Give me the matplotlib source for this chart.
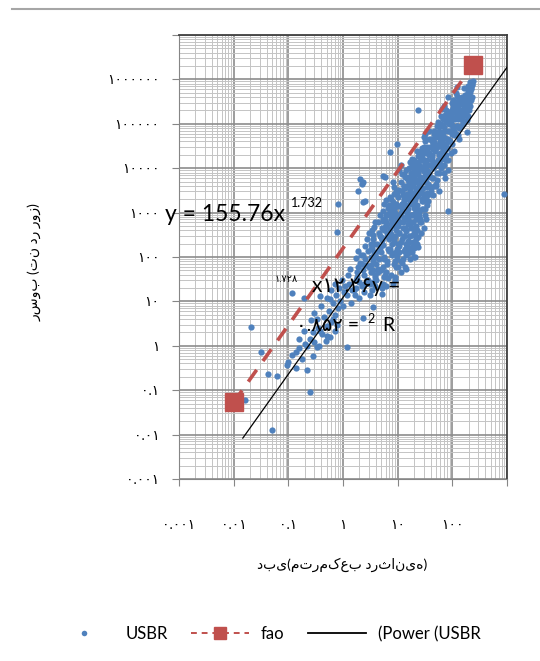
import matplotlib
matplotlib.use('Agg')
import matplotlib.pyplot as plt
from matplotlib.lines import Line2D
from matplotlib.ticker import LogLocator, FixedLocator, FixedFormatter, NullFormatter

plt.rcParams['font.family'] = ['Lato', 'DejaVu Sans']

# USBR measurements: discharge (m3/s) and sediment load (ton/day)
q_usbr = [
    # sparse low-flow tail and outliers
    0.016, 0.021, 0.031, 0.042, 0.051, 0.061, 0.093, 0.10, 0.117, 0.117,
    0.14, 0.14, 0.16, 0.16, 0.18, 0.19, 0.19, 0.20, 0.22, 0.22,
    0.245, 0.25, 0.26, 0.28, 0.28, 0.30, 0.30, 0.33, 0.34, 0.35,
    0.36, 0.38, 0.38, 0.40, 0.42, 0.45, 0.48, 0.50, 0.50, 0.50,
    0.55, 0.57, 0.58, 0.60, 0.60, 0.65, 0.65, 0.70, 0.70, 0.70,
    0.75, 0.78, 0.78, 0.80, 0.80, 0.85, 0.90, 0.95, 1.0, 1.05,
    1.1, 1.17, 2.3, 3.5, 2.05, 2.2, 1.9, 2.5, 5.4, 7.2,
    9.7, 23.6, 25.5, 83, 120, 210, 185, 83, 900, 2.3,
    2.3, 5.9, 5.9,
    # main cloud
    1.2, 1.3, 1.4, 1.25, 1.45, 1.35,
    1.7, 1.8, 1.9, 1.75, 2.0, 1.85, 1.65, 2.05,
    2.2, 2.4, 2.6, 2.3, 2.5, 2.7, 2.8, 2.35, 2.55, 2.9, 2.45,
    3.1, 3.3, 3.5, 3.2, 3.6, 3.4, 3.8, 3.0, 3.7, 3.9, 3.3, 3.55, 3.45, 3.75,
    4.1, 4.3, 4.5, 4.7, 4.9, 5.1, 5.3, 5.5, 5.7, 4.2,
    4.6, 5.0, 5.4, 4.4, 4.8, 5.2, 5.6, 5.8, 4.0, 5.5,
    6.0, 6.3, 6.6, 6.9, 7.2, 7.5, 7.8, 8.1, 8.4, 8.7, 6.2, 6.5,
    6.8, 7.1, 7.4, 7.7, 8.0, 8.3, 8.6, 8.9, 7.0, 7.6, 6.4, 8.2,
    9.2, 9.6, 10, 10.5, 11, 11.5, 12, 12.5, 13, 13.5, 9.4, 9.8, 10.3, 10.8,
    11.3, 11.8, 12.3, 12.8, 13.2, 13.4, 9.0, 10.1, 11.1, 12.1, 13.0, 10.6, 11.7,
    14, 14.5, 15, 15.5, 16, 16.5, 17, 17.5, 18, 18.5, 14.2, 14.8, 15.3, 15.8, 16.3,
    16.8, 17.3, 17.8, 18.3, 18.8, 19.3, 19.8, 20.3, 20, 15.6, 16.6, 17.6, 18.6, 19.5, 20.2,
    21, 22, 23, 24, 25, 26, 27, 28, 29, 30, 21.5, 22.5, 23.5, 24.5, 25.5,
    26.5, 27.5, 28.5, 29.5, 30.5, 22, 24, 26, 28, 23, 25, 27, 29, 31, 21,
    32, 34, 36, 38, 40, 42, 44, 46, 48, 33, 35, 37,
    39, 41, 43, 45, 47, 33, 36, 39, 42, 44, 37,
    50, 53, 56, 59, 62, 65, 68, 71, 52, 55, 58, 61, 64, 67, 70, 72, 57, 63,
    75, 80, 85, 90, 95, 100, 105, 78, 88, 98, 108, 82, 93, 103,
    112, 120, 128, 136, 145, 118, 132, 150, 160, 140, 125,
    170, 185, 200, 215, 230, 190, 210, 240, 225,
    # dense core
    5.0, 5.2, 5.4, 5.6, 5.8, 6.0, 6.2, 6.4, 6.6, 6.8, 5.1, 5.3, 5.7, 6.1, 6.5,
    7.6, 7.9, 8.2, 8.5, 8.8, 9.1, 9.4, 9.7, 10.0, 10.3,
    7.7, 8.0, 8.3, 8.6, 8.9, 9.2, 9.5, 9.8, 10.1, 10.4,
    11.5, 11.8, 12.1, 12.4, 12.7, 13.0, 13.3, 13.6, 13.9, 14.2, 14.5, 14.8,
    15.1, 15.4, 15.7, 16.0, 11.6, 12.2, 12.8, 13.4, 14.0, 14.6, 15.2, 15.8,
    17.0, 17.4, 17.8, 18.2, 18.6, 19.0, 19.4, 19.8, 20.2, 20.6, 21.0, 21.4, 21.8,
    22.2, 22.6, 23.0, 23.4, 23.8, 17.2, 18.0, 18.8, 19.6, 20.4, 21.2, 22.0, 22.8,
    26, 27, 28, 29, 30, 31, 32, 33, 34, 35, 36, 37, 26.5, 28.5, 30.5, 32.5, 34.5, 36.5, 27.5, 31.5,
    40, 42, 44, 46, 48, 50, 52, 54, 56, 58, 41, 45, 49, 53, 57,
    60, 63, 66, 69, 72, 75, 78, 81, 84, 87, 62, 70, 80,
    92, 97, 102, 107, 112, 117, 122, 127, 132, 95, 110, 125,
    142, 150, 158, 166, 174, 182, 190, 198, 155, 178,
    2.9, 3.1, 3.3, 3.5, 3.7, 3.9, 4.1, 3.0, 3.4, 3.8,
    1.6, 1.8, 2.0, 2.2, 2.4, 1.7, 2.1,
    # upper band
    61, 64, 67, 71, 74, 77, 83, 86, 65, 76, 85, 68,
    94, 99, 104, 109, 114, 119, 124, 129, 134, 100, 115, 130, 105, 120,
    145, 152, 160, 168, 176, 184, 192, 200, 208, 216, 224, 232, 165, 195,
    43, 47, 51, 55, 59, 44, 50, 56,
    8.6, 9.0, 9.4, 9.9, 10.4, 10.9, 11.4, 11.9, 9.2, 10.7,
    12.2, 12.9, 13.7, 14.4, 15.2, 16.0, 16.8, 17.6, 13.2, 15.5, 17.2, 14.0,
    18.4, 19.2, 20.0, 20.8, 21.6, 22.4, 23.2, 24.0, 24.8, 25.6, 19.0, 23.6,
    27.2, 28.4, 29.6, 30.8, 32.0, 33.2, 34.4, 35.6, 36.8, 38.0, 30, 34,
    3.2, 3.6, 4.0, 4.4, 4.8, 5.2, 5.6, 6.0, 6.6, 7.2, 7.8,
]
qs_usbr = [
    0.06, 2.7, 0.74, 0.23, 0.013, 0.21, 0.37, 0.44, 0.63, 15.5,
    0.32, 0.73, 0.89, 1.4, 0.5, 12, 2.1, 1.1, 0.285, 1.0,
    0.091, 1.4, 3.8, 2.0, 0.6, 1.2, 5.5, 0.93, 4.1, 2.5,
    1.0, 13, 2.1, 8, 1.8, 4.5, 1.3, 2.8, 1.7, 12,
    6, 1.6, 11.5, 3.5, 18, 9, 4, 5, 25, 2.2,
    14, 3.0, 370, 7, 1550, 20, 10, 30, 8, 16,
    22, 0.93, 4.3, 7.4, 5800, 4400, 3100, 1800, 6600, 23000,
    35000, 200000, 19000, 1100, 670000, 880000, 65000, 400000, 2600, 1740,
    4900, 6300, 680,
    14, 25, 9, 40, 18, 55,
    20, 35, 60, 95, 28, 140, 14, 75,
    22, 40, 65, 110, 180, 30, 260, 50, 90, 140, 16,
    25, 45, 80, 150, 250, 400, 600, 60, 120, 35, 200, 320, 18, 480,
    30, 55, 90, 160, 280, 450, 700, 1100, 1600, 200,
    350, 130, 60, 600, 900, 240, 400, 40, 100, 25,
    45, 80, 150, 260, 420, 700, 1100, 1700, 2600, 3800, 500, 900,
    1500, 2200, 330, 550, 200, 120, 70, 30, 1000, 1400, 300, 600,
    60, 110, 200, 350, 600, 1000, 1600, 2500, 4000, 6500, 800, 1400, 2200, 3300,
    5000, 7500, 450, 750, 300, 150, 300, 500, 900, 1200, 1800, 130, 80,
    200, 400, 700, 1200, 2000, 3200, 5000, 8000, 12000, 16000, 1500, 2600, 4200, 6500, 10000,
    14000, 900, 1600, 2800, 4500, 600, 350, 180, 100, 550, 300, 130, 7000, 9000, 1300,
    400, 800, 1500, 2500, 4000, 6500, 10000, 15000, 22000, 30000, 3000, 5000, 8000, 12000, 18000,
    25000, 2000, 3500, 5500, 8500, 250, 170, 700, 1200, 12000, 1000, 600, 1800, 13000, 7000,
    1200, 2500, 4500, 7500, 12000, 18000, 27000, 38000, 50000, 9000, 15000, 22000,
    30000, 3500, 6000, 10000, 4000, 700, 1800, 2600, 40000, 14000, 45000,
    4000, 8000, 14000, 22000, 33000, 48000, 65000, 85000, 30000, 50000, 70000, 10000, 16000, 25000, 12000, 6000, 3000, 100000,
    15000, 28000, 45000, 70000, 100000, 140000, 180000, 120000, 160000, 35000, 55000, 9000, 22000, 80000,
    60000, 90000, 140000, 200000, 280000, 250000, 45000, 120000, 180000, 350000, 320000,
    200000, 300000, 450000, 600000, 750000, 550000, 250000, 900000, 400000,
    50, 15, 190, 35, 480, 22, 900, 70, 1300, 140, 260, 650, 100, 1900, 350,
    40, 300, 25, 1200, 80, 500, 3000, 150, 60, 800,
    2000, 110, 5000, 220, 35, 1600, 400, 90, 650, 180,
    45, 250, 1600, 90, 600, 4000, 140, 2500, 60, 380, 9000, 180,
    1000, 120, 700, 300, 12000, 75, 2000, 450, 55, 6000, 230, 160,
    90, 450, 2500, 130, 900, 6000, 220, 1500, 15000, 350, 100, 3500, 700,
    200, 25000, 1200, 280, 9000, 600, 170, 4800, 160, 1900, 11000, 500, 2400,
    600, 3000, 18000, 1200, 50000, 900, 7000, 2200, 30000, 1500, 12000, 4000, 350, 9000, 450, 22000, 2800, 6500, 1800, 40000,
    3000, 20000, 6000, 60000, 11000, 4500, 90000, 15000, 35000, 8000, 45000, 2500, 25000, 5500, 13000,
    12000, 150000, 30000, 8000, 70000, 20000, 200000, 45000, 15000, 100000, 55000, 250000, 28000,
    40000, 300000, 90000, 25000, 180000, 60000, 420000, 130000, 80000, 150000, 250000, 55000,
    90000, 400000, 150000, 650000, 250000, 120000, 500000, 200000, 280000, 350000,
    30, 14, 100, 50, 200, 22, 70, 350, 160, 40,
    18, 45, 12, 70, 25, 30, 110,
    90000, 40000, 130000, 50000, 160000, 35000, 70000, 180000, 220000, 110000, 130000, 18000,
    110000, 200000, 350000, 70000, 130000, 300000, 90000, 230000, 380000, 60000, 500000, 170000, 240000, 160000,
    180000, 320000, 100000, 450000, 170000, 380000, 700000, 300000, 520000, 350000, 650000, 800000, 230000, 150000,
    15000, 70000, 28000, 110000, 40000, 35000, 60000, 20000,
    250, 1000, 130, 2600, 350, 1400, 220, 3000, 600, 9000,
    1100, 300, 3500, 800, 5500, 220, 1800, 480, 7500, 2400, 3800, 110,
    2000, 320, 8000, 1000, 5500, 400, 14000, 2800, 850, 6000, 12000, 19000,
    5000, 28000, 2600, 15000, 60000, 4800, 25000, 8500, 70000, 20000, 11000, 3800,
    65, 28, 130, 45, 300, 20, 90, 600, 33, 150, 900,
]

# fao curve end points
q_fao = [0.01, 237]
qs_fao = [0.0535, 2.08e6]

# power trendline of USBR: y = a * x^b
pow_a, pow_b = 12.26, 1.728
pow_q = [0.0147, 1000]

x_ticks = [0.001, 0.01, 0.1, 1, 10, 100, 1000]
x_labels = ['۰.۰۰۱', '۰.۰۱', '۰.۱', '۱', '۱۰', '۱۰۰', '']
y_ticks = [1e-3, 1e-2, 1e-1, 1, 10, 100, 1e3, 1e4, 1e5, 1e6, 1e7]
y_labels = ['۰.۰۰۱', '۰.۰۱', '۰.۱', '۱', '۱۰', '۱۰۰', '۱۰۰۰', '۱۰۰۰۰',
            '۱۰۰۰۰۰', '۱۰۰۰۰۰۰', '']

blue = '#4f81bd'
red = '#c0504d'

fig = plt.figure(figsize=(5.4, 6.61), dpi=100)
ax = fig.add_axes([179/540, 1-479/661, 328/540, 444/661])
ax.set_xscale('log')
ax.set_yscale('log')
ax.set_xlim(0.001, 1000)
ax.set_ylim(0.001, 1e7)

ax.plot(q_usbr, qs_usbr, 'o', ms=4.5, color=blue, mec='none', zorder=3)
ax.plot(q_fao, qs_fao, color=red, lw=2.6, dashes=(4, 3), marker='s', ms=13,
        zorder=4)
ax.plot(pow_q, [pow_a*q**pow_b for q in pow_q], color='black', lw=0.9, zorder=5)

# grid
ax.xaxis.set_major_locator(FixedLocator(x_ticks))
ax.xaxis.set_major_formatter(FixedFormatter(x_labels))
ax.yaxis.set_major_locator(FixedLocator(y_ticks))
ax.yaxis.set_major_formatter(FixedFormatter(y_labels))
ax.xaxis.set_minor_locator(LogLocator(base=10, subs=range(2, 10), numticks=20))
ax.yaxis.set_minor_locator(LogLocator(base=10, subs=range(2, 10), numticks=20))
ax.xaxis.set_minor_formatter(NullFormatter())
ax.yaxis.set_minor_formatter(NullFormatter())
ax.grid(which='major', color='#8c8c8c', lw=1.2)
ax.grid(which='minor', color='#c4c4c4', lw=0.7)
ax.set_axisbelow(True)

ax.tick_params(which='major', direction='out', length=5, color='#868686',
               labelsize=10)
ax.tick_params(axis='x', which='major', pad=24)
ax.tick_params(axis='y', which='major', pad=9)
ax.tick_params(which='minor', length=0)
for s in ['top', 'right']:
    ax.spines[s].set_color('#404040')
    ax.spines[s].set_linewidth(1.3)
for s in ['left', 'bottom']:
    ax.spines[s].set_color('#868686')

# axis titles
fig.text(35/540, 1-262/661, 'رسوب (تن در روز)', rotation=90, ha='center',
         va='center', fontsize=10)
fig.text(342/540, 1-565/661, 'دبی(مترمکعب درثانیه)', ha='center',
         va='center', fontsize=10)

# equations
fig.text(165/540, 1-221/661, 'y = 155.76x', fontsize=16.5, va='baseline')
fig.text(291/540, 1-207/661, '1.732', fontsize=9, va='baseline')
fig.text(275/540, 1-282/661, '۱.۷۲۸', fontsize=7, va='baseline')
fig.text(312/540, 1-292/661, 'x۱۲.۲۶y =', fontsize=15, va='baseline')
fig.text(296/540, 1-331/661, '۰.۸۵۲ =', fontsize=14, va='baseline')
fig.text(367/540, 1-323/661, '2', fontsize=9, va='baseline')
fig.text(382/540, 1-331/661, 'R', fontsize=14, va='baseline')

# rule at the top
fig.add_artist(Line2D([12/540, 1], [1-9/661, 1-9/661], color='#a6a6a6', lw=1.5))

# legend
handles = [
    Line2D([], [], ls='none', marker='o', ms=4, color=blue, mec='none'),
    Line2D([], [], color=red, lw=1.4, dashes=(3, 2.5), marker='s', ms=9),
    Line2D([], [], color='black', lw=1.3),
]
labels = ['USBR', 'fao', '(Power (USBR']
fig.legend(handles, labels, loc='center', bbox_to_anchor=(268/540, 1-634/661),
           ncol=3, frameon=False, fontsize=12, handlelength=3.5,
           handletextpad=0.7, columnspacing=1.4, numpoints=1)

fig.savefig('out.png', dpi=100)
